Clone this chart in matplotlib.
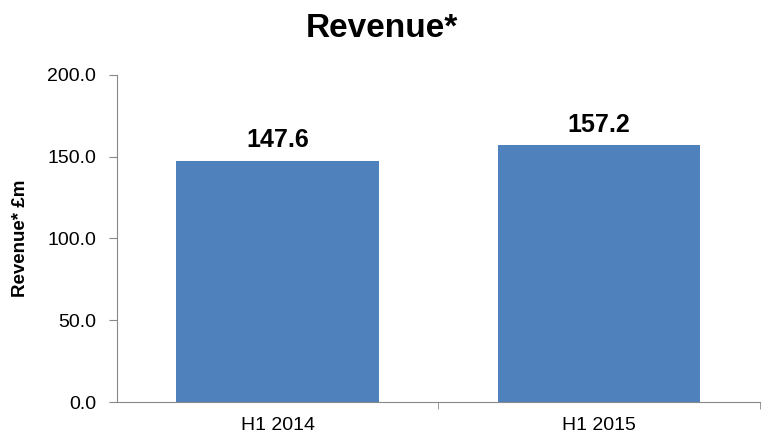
import matplotlib
matplotlib.use("Agg")
import matplotlib.pyplot as plt

plt.rcParams['font.family'] = ['Liberation Sans', 'DejaVu Sans']

categories = ['H1 2014', 'H1 2015']
revenue = [147.6, 157.2]

fig = plt.figure(figsize=(7.63, 4.38), dpi=100)
ax = fig.add_axes([0.153, 0.082, 0.843, 0.747])

x = range(len(categories))
bars = ax.bar(x, revenue, width=0.63, color='#4F81BD')

for xi, v in zip(x, revenue):
    ax.text(xi, v + 5, f'{v:.1f}', ha='center', va='bottom',
            fontsize=18, fontweight='bold')

ax.set_xlim(-0.5, 1.5)
ax.set_ylim(0, 200)
ax.set_yticks([0, 50, 100, 150, 200])
ax.set_yticklabels([f'{t:.1f}' for t in [0, 50, 100, 150, 200]], fontsize=14)
ax.set_xticks(list(x))
ax.set_xticklabels(categories, fontsize=14)
ax.tick_params(axis='x', length=0, pad=11)
ax.set_xticks([0.5, 1.5], minor=True)
ax.tick_params(axis='x', which='minor', length=5, color='#888888')
ax.tick_params(axis='y', length=6, color='#888888', pad=9)

for s in ['top', 'right']:
    ax.spines[s].set_visible(False)
for s in ['left', 'bottom']:
    ax.spines[s].set_color('#888888')

ax.set_ylabel('Revenue* £m', fontsize=13.5, fontweight='bold')
ax.yaxis.set_label_coords(-0.136, 0.5)
fig.suptitle('Revenue*', fontsize=24, fontweight='bold', y=0.97)

fig.savefig('out.png', dpi=100)
